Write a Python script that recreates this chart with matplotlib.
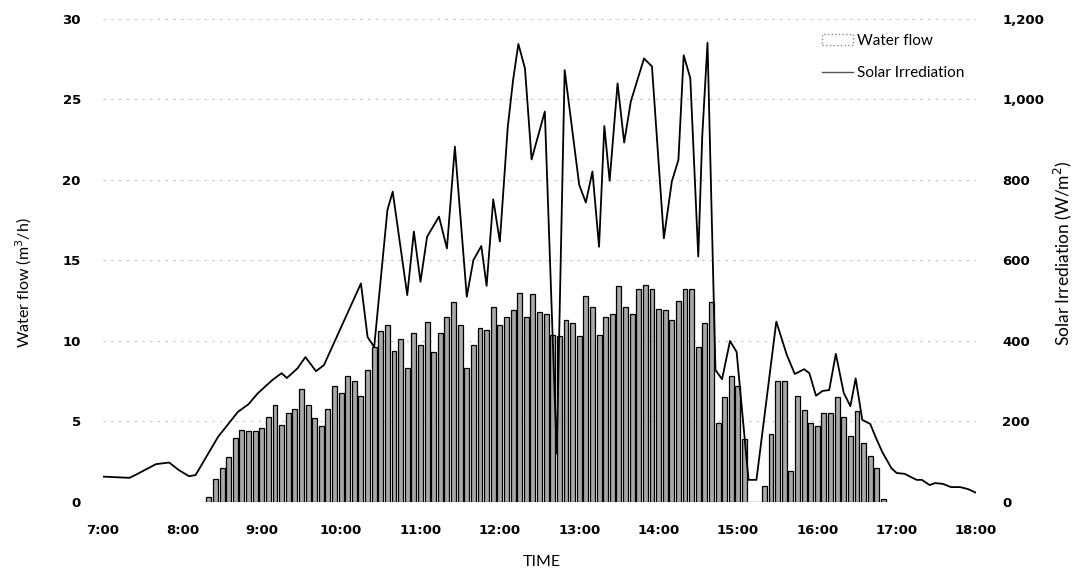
import numpy as np
import matplotlib.pyplot as plt
from matplotlib.patches import Patch
from matplotlib.lines import Line2D

# water flow (m3/h), one bar every 5 minutes from 8:20 to 16:50
flow_start = '8:20'
flow_step_min = 5
water_flow = [
    0.3, 1.4, 2.1, 2.8, 4.0, 4.5, 4.4, 4.4, 4.6, 5.3,
    6.0, 4.8, 5.5, 5.8, 7.0, 6.0, 5.2, 4.7, 5.8, 7.2,
    6.8, 7.8, 7.5, 6.6, 8.2, 9.6, 10.6, 11.0, 9.4,
    10.1, 8.3, 10.5, 9.75, 11.2, 9.3, 10.5, 11.5, 12.4, 11.0,
    8.3, 9.75, 10.8, 10.7, 12.1, 11.0, 11.5, 11.9, 13.0, 11.5,
    12.9, 11.8, 11.7, 10.4, 10.3, 11.3, 11.1, 10.3, 12.8, 12.1,
    10.4, 11.5, 11.7, 13.4, 12.1, 11.7, 13.2, 13.5, 13.2, 12.0,
    11.9, 11.3, 12.5, 13.2, 13.2, 9.6, 11.1, 12.4,
    4.9, 6.5, 7.8, 7.2, 3.9, 0.0, 0.0, 1.0, 4.2, 7.5,
    7.5, 1.9, 6.6, 5.7, 4.9, 4.7, 5.5, 5.5, 6.5, 5.3,
    4.1, 5.65, 3.65, 2.85, 2.1, 0.2,
]

# solar irradiation (W/m2)
solar_time = [
    '7:00', '7:20', '7:25', '7:40', '7:50', '7:57', '8:05', '8:10', '8:27', '8:42',
    '8:50', '8:57', '9:08', '9:15', '9:19', '9:27', '9:33', '9:41', '9:47', '9:55',
    '10:15', '10:20', '10:25', '10:35', '10:39', '10:50', '10:55', '11:00', '11:05', '11:14',
    '11:20', '11:26', '11:35', '11:40', '11:46', '11:50', '11:55', '12:00', '12:06', '12:10',
    '12:14', '12:19', '12:24', '12:34', '12:43', '12:49', '13:00', '13:05', '13:10', '13:15',
    '13:19', '13:23', '13:29', '13:34', '13:39', '13:49', '13:55', '14:04', '14:10', '14:15',
    '14:19', '14:24', '14:30', '14:33', '14:37', '14:43', '14:48', '14:54', '14:59', '15:08',
    '15:14', '15:29', '15:37', '15:43', '15:50', '15:54', '15:59', '16:04', '16:09', '16:14',
    '16:20', '16:25', '16:29', '16:34', '16:40', '16:44', '16:49', '16:56', '17:00', '17:06',
    '17:15', '17:19', '17:25', '17:29', '17:35', '17:41', '17:48', '17:54', '18:00',
]
solar = [
    63, 60, 68, 94, 98, 80, 64, 67, 162, 224,
    243, 270, 303, 320, 308, 332, 360, 325, 340, 398,
    543, 410, 385, 725, 771, 514, 672, 547, 659, 709,
    630, 883, 510, 601, 636, 537, 752, 647, 932, 1048,
    1138, 1077, 851, 970, 120, 1073, 788, 744, 821, 634,
    934, 798, 1040, 893, 995, 1102, 1082, 655, 796, 850,
    1110, 1053, 610, 908, 1141, 328, 305, 400, 373, 55,
    55, 448, 365, 318, 330, 320, 264, 276, 278, 368,
    271, 238, 307, 204, 194, 162, 125, 84, 72, 70,
    55, 55, 42, 47, 45, 37, 37, 32, 23,
]

hour_ticks = list(range(7, 19))
hour_labels = ['%d:00' % h for h in hour_ticks]


def to_hours(s):
    h, m = s.split(':')
    return int(h) + int(m) / 60.0


def main():
    t0 = to_hours(flow_start)
    flow_t = t0 + np.arange(len(water_flow)) * flow_step_min / 60.0
    sol_t = np.array([to_hours(s) for s in solar_time])

    fig = plt.figure(figsize=(10.81, 5.72), dpi=100)
    ax = fig.add_axes([0.0953, 0.1224, 0.8076, 0.8444])
    ax2 = ax.twinx()

    ax.bar(flow_t, water_flow, width=0.062, color='#a8a8a8',
           edgecolor='black', linewidth=0.9, zorder=2)
    ax2.plot(sol_t, solar, color='black', lw=1.3)

    ax.set_xlim(7, 18)
    ax.set_ylim(0, 30)
    ax2.set_ylim(0, 1200)
    ax.set_yticks(range(0, 31, 5))
    ax2.set_yticks(range(0, 1201, 200))
    ax2.set_yticklabels(['{:,}'.format(v) for v in range(0, 1201, 200)])
    ax.set_xticks(hour_ticks)
    ax.set_xticklabels(hour_labels)

    ax.grid(axis='y', color='#c4c4c4', linestyle=(0, (2, 5)), lw=0.8, zorder=0)
    ax.set_axisbelow(True)
    for a in (ax, ax2):
        for sp in a.spines.values():
            sp.set_visible(False)
    ax.tick_params(axis='y', length=0, pad=16, labelsize=9.5)
    ax.tick_params(axis='x', length=0, pad=16, labelsize=9.5)
    ax2.tick_params(axis='y', length=0, pad=19, labelsize=9.5)
    for lab in ax.get_xticklabels() + ax.get_yticklabels() + ax2.get_yticklabels():
        lab.set_fontweight('bold')

    fig.text(0.022, 0.505, 'Water flow (m$^3$/h)', rotation=90,
             ha='center', va='center', family='Lato', fontsize=11.5)
    fig.text(0.983, 0.558, 'Solar Irrediation (W/m$^2$)', rotation=90,
             ha='center', va='center', family='Lato', fontsize=12.5)
    fig.text(0.501, 0.017, 'TIME', ha='center', va='center',
             family='Lato', fontsize=11.5)

    handles = [Patch(facecolor='white', edgecolor='#888888', linestyle=':', lw=1.0),
               Line2D([], [], color='#555555', lw=1.0)]
    fig.legend(handles, ['Water flow', 'Solar Irrediation'], loc='upper left',
               bbox_to_anchor=(0.748, 0.965), frameon=False,
               prop={'family': 'Lato', 'size': 11}, labelspacing=1.2,
               handlelength=2.0, handletextpad=0.3)

    fig.savefig('out.png', dpi=100)


if __name__ == '__main__':
    main()
